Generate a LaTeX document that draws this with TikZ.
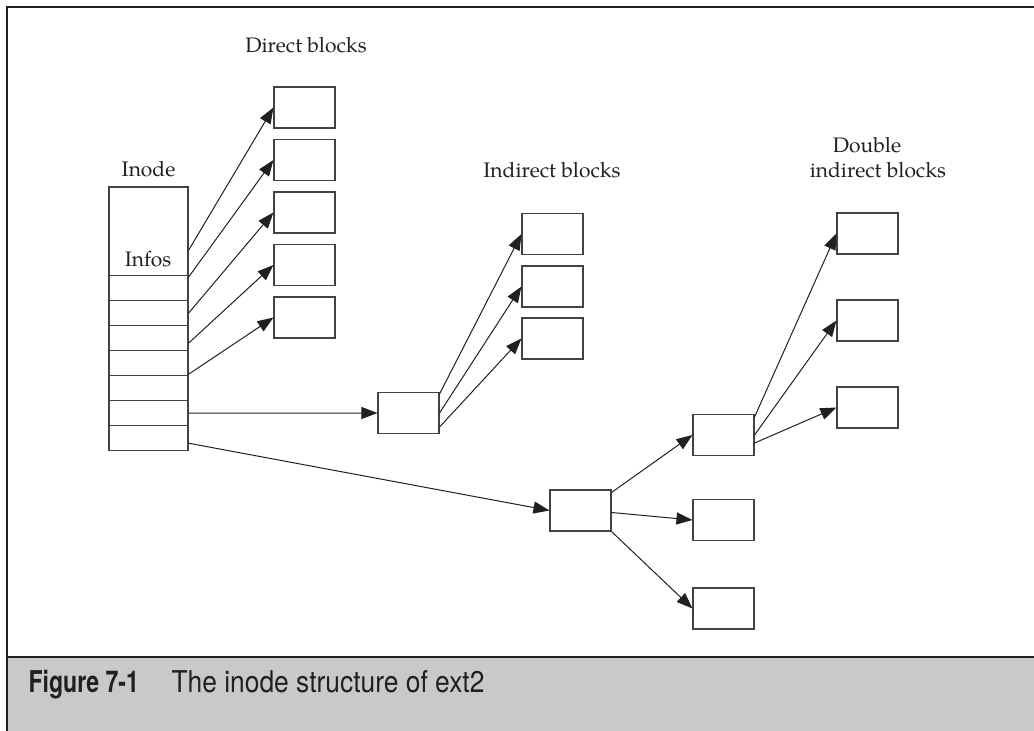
\documentclass[tikz,border=0pt]{standalone}
\usepackage{fontspec}
\setmainfont{TeX Gyre Pagella}
\newfontfamily\capfont[FakeStretch=0.88]{TeX Gyre Heros}
\newfontfamily\capbold[FakeStretch=0.77]{TeX Gyre Heros}
\usetikzlibrary{arrows.meta}
\definecolor{capgray}{RGB}{200,201,203}
\definecolor{ink}{RGB}{35,31,32}
\begin{document}
\begin{tikzpicture}[x=1pt,y=-1pt,
	blk/.style={draw=ink!85, line width=1.1pt, minimum width=61pt, minimum height=41pt, inner sep=0pt},
	cell/.style={draw=ink!85, line width=1.1pt, minimum width=79pt, minimum height=25pt, inner sep=0pt},
	ptr/.style={-{Triangle[length=16pt,width=12pt]}, line width=1pt, ink},
	lbl/.style={font=\fontsize{21}{25}\selectfont, text=ink, anchor=base},
	captxt/.style={font=\capfont\fontsize{30}{34}\selectfont, text=ink, anchor=base west}
	]
	\useasboundingbox (0,0) rectangle (1034,731);
	% frame and caption bar
	\fill[capgray] (7,657) rectangle (1034,731);
	\draw[ink, line width=2.5pt] (7,7) -- (1034,7);
	\draw[ink, line width=2.5pt] (7,657) -- (1034,657);
	\draw[ink, line width=2pt] (7,6) -- (7,731);
	\node[captxt, font=\capbold\bfseries\fontsize{30}{34}\selectfont] (fig) at (25,692) {Figure 7-1};
	\node[captxt] (captext) at (168,692) {The inode structure of ext2};

	% inode
	\node[cell, minimum height=88.7pt] (head) at (148.5,231.35) {};
	\foreach \i in {1,...,7}
		\node[cell] (r\i) at (148.5,263.2+25*\i) {};
	\node[lbl] (inodelbl) at (148.5,176) {Inode};
	\node[lbl] (infos) at (148,266) {Infos};

	% direct blocks
	\node[lbl] (directlbl) at (306,52) {Direct blocks};
	\foreach \i in {1,...,5}
		\node[blk] (d\i) at (304.5,55+52.5*\i) {};

	% indirect blocks
	\node[lbl] (indlbl) at (552,177) {Indirect blocks};
	\node[blk] (ind) at (408.5,413) {};
	\node[blk] (i1) at (552.5,234) {};
	\node[blk] (i2) at (552.5,286.5) {};
	\node[blk] (i3) at (552.5,338.5) {};

	% double indirect blocks
	\node[lbl] (dbllbl1) at (867,152) {Double};
	\node[lbl] (dbllbl2) at (878,177) {indirect blocks};
	\node[blk] (dbl) at (580.5,510.5) {};
	\node[blk] (a) at (723.5,435) {};
	\node[blk] (b) at (723.5,520) {};
	\node[blk] (c) at (723.5,608.5) {};
	\node[blk] (t1) at (867.5,233.5) {};
	\node[blk] (t2) at (867.5,320.5) {};
	\node[blk] (t3) at (867.5,407.5) {};

	% pointers
	\draw[ptr] ([yshift=-19pt]head.east) -- (d1.west);
	\draw[ptr] ([yshift=-2pt]r1.north east) -- (d2.west);
	\draw[ptr] (r2.east) -- (d3.west);
	\draw[ptr] ([yshift=-5pt]r3.east) -- (d4.west);
	\draw[ptr] ([yshift=2pt]r4.south east) -- (d5.west);
	\draw[ptr] (r6.east) -- (ind.west);
	\draw[ptr] ([yshift=-5pt]r7.east) -- (dbl.west);

	\draw[ptr] ([yshift=-2pt]ind.north east) -- (i1.west);
	\draw[ptr] (ind.east) -- (i2.west);
	\draw[ptr] ([yshift=7pt]ind.south east) -- (i3.west);

	\draw[ptr] ([yshift=-3pt]dbl.north east) -- (a.west);
	\draw[ptr] ([yshift=-2pt]dbl.east) -- (b.west);
	\draw[ptr] (dbl.south east) -- (c.west);

	\draw[ptr] ([yshift=-3pt]a.north east) -- (t1.west);
	\draw[ptr] (a.east) -- (t2.west);
	\draw[ptr] ([yshift=-8pt]a.east) -- (t3.west);
\end{tikzpicture}
\end{document}
